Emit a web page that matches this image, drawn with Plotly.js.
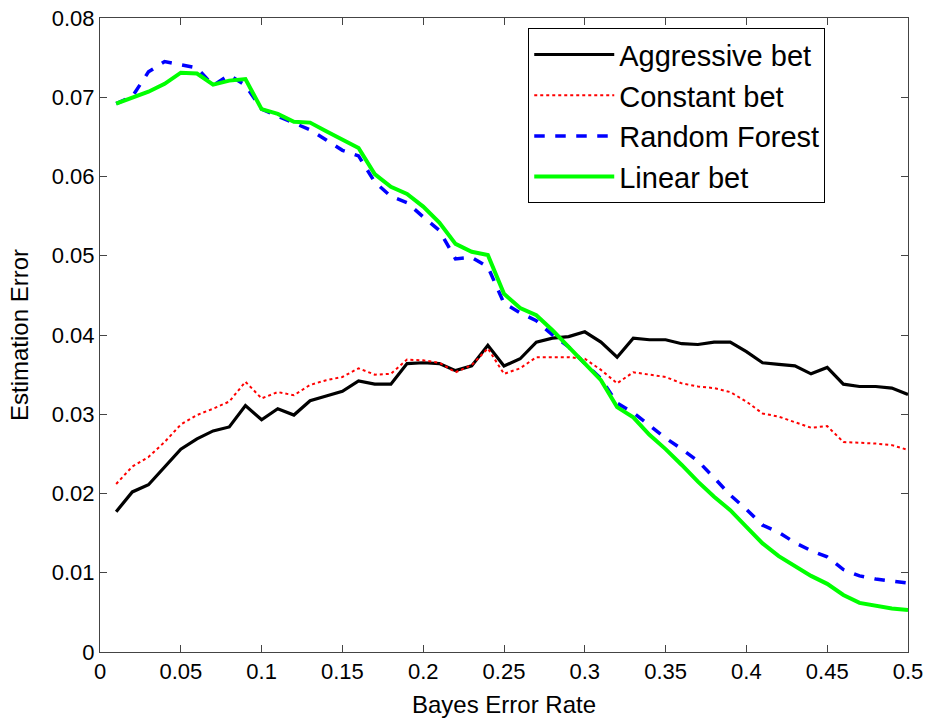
<!DOCTYPE html>
<html>
<head>
<meta charset="utf-8">
<script src="https://cdn.plot.ly/plotly-3.0.1.min.js"></script>
<style>html,body{margin:0;padding:0;background:#fff;}#chart{width:926px;height:719px;}</style>
</head>
<body>
<div id="chart"></div>
<script>
const bayesRate = [0.01,0.02,0.03,0.04,0.05,0.06,0.07,0.08,0.09,0.10,0.11,0.12,0.13,0.14,0.15,0.16,0.17,0.18,0.19,0.20,0.21,0.22,0.23,0.24,0.25,0.26,0.27,0.28,0.29,0.30,0.31,0.32,0.33,0.34,0.35,0.36,0.37,0.38,0.39,0.40,0.41,0.42,0.43,0.44,0.45,0.46,0.47,0.48,0.49,0.50];

const aggressiveBet = [0.0177,0.0202,0.0211,0.0234,0.0256,0.0269,0.0279,0.0284,0.0311,0.0293,0.0307,0.0299,0.0317,0.0323,0.0329,0.0342,0.0338,0.0338,0.0364,0.0365,0.0364,0.0355,0.0361,0.0387,0.0361,0.0370,0.0391,0.0396,0.0398,0.0404,0.0391,0.0372,0.0396,0.0394,0.0394,0.0389,0.0388,0.0391,0.0391,0.0379,0.0365,0.0363,0.0361,0.0351,0.0359,0.0338,0.0335,0.0335,0.0333,0.0325];

const constantBet = [0.0212,0.0234,0.0246,0.0265,0.0287,0.0299,0.0307,0.0316,0.0341,0.0320,0.0328,0.0324,0.0337,0.0343,0.0347,0.0358,0.0350,0.0351,0.0369,0.0368,0.0365,0.0353,0.0362,0.0383,0.0351,0.0358,0.0372,0.0372,0.0372,0.0370,0.0356,0.0339,0.0353,0.0350,0.0347,0.0339,0.0335,0.0333,0.0328,0.0316,0.0301,0.0297,0.0290,0.0283,0.0285,0.0265,0.0264,0.0263,0.0261,0.0255];

const randomForest = [0.0692,0.0701,0.0732,0.0745,0.0741,0.0737,0.0715,0.0728,0.0715,0.0685,0.0676,0.0667,0.0659,0.0646,0.0633,0.0626,0.0593,0.0575,0.0567,0.0549,0.0532,0.0496,0.0498,0.0486,0.0440,0.0428,0.0418,0.0400,0.0385,0.0364,0.0345,0.0314,0.0302,0.0286,0.0270,0.0256,0.0241,0.0220,0.0198,0.0180,0.0160,0.0151,0.0138,0.0128,0.0120,0.0104,0.0096,0.0092,0.0089,0.0087];

const linearBet = [0.0692,0.0699,0.0707,0.0717,0.0731,0.0730,0.0716,0.0721,0.0723,0.0685,0.0679,0.0669,0.0668,0.0657,0.0647,0.0636,0.0603,0.0587,0.0578,0.0562,0.0542,0.0515,0.0505,0.0501,0.0452,0.0434,0.0425,0.0406,0.0385,0.0364,0.0343,0.0309,0.0296,0.0274,0.0256,0.0236,0.0215,0.0196,0.0179,0.0158,0.0137,0.0121,0.0108,0.0096,0.0086,0.0072,0.0062,0.0058,0.0055,0.0053];

const seriesNames = ["Aggressive bet","Constant bet","Random Forest","Linear bet"];
const xTickVals = [0,0.05,0.1,0.15,0.2,0.25,0.3,0.35,0.4,0.45,0.5];
const xTickText = ["0","0.05","0.1","0.15","0.2","0.25","0.3","0.35","0.4","0.45","0.5"];
const yTickVals = [0,0.01,0.02,0.03,0.04,0.05,0.06,0.07,0.08];
const yTickText = ["0","0.01","0.02","0.03","0.04","0.05","0.06","0.07","0.08"];

const traces = [
  {x: bayesRate, y: aggressiveBet, name: seriesNames[0], mode: "lines", line: {color: "#000000", width: 3.2}},
  {x: bayesRate, y: constantBet, name: seriesNames[1], mode: "lines", line: {color: "#ff0000", width: 2, dash: "dot"}},
  {x: bayesRate, y: randomForest, name: seriesNames[2], mode: "lines", line: {color: "#0000ff", width: 3.5, dash: "dash"}},
  {x: bayesRate, y: linearBet, name: seriesNames[3], mode: "lines", line: {color: "#00ff00", width: 4}}
];

const font = "Arial, 'Liberation Sans', sans-serif";
const layout = {
  width: 926, height: 719,
  margin: {l: 100, r: 18, t: 18, b: 67},
  paper_bgcolor: "#ffffff", plot_bgcolor: "#ffffff",
  showlegend: true,
  legend: {
    x: 0.53, y: 0.984, xanchor: "left", yanchor: "top",
    bgcolor: "#ffffff", bordercolor: "#000000", borderwidth: 1,
    font: {family: font, size: 29, color: "#000000"},
    itemwidth: 80,
    tracegroupgap: 0
  },
  xaxis: {
    range: [0, 0.5], tickvals: xTickVals, ticktext: xTickText,
    ticks: "inside", ticklen: 7, tickcolor: "#444", showline: true, linecolor: "#444", linewidth: 1,
    mirror: "ticks", showgrid: false, zeroline: false,
    tickfont: {family: font, size: 22, color: "#000"},
    title: {text: "Bayes Error Rate", font: {family: font, size: 24, color: "#000"}, standoff: 12}
  },
  yaxis: {
    range: [0, 0.08], tickvals: yTickVals, ticktext: yTickText,
    ticks: "inside", ticklen: 7, tickcolor: "#444", showline: true, linecolor: "#444", linewidth: 1,
    mirror: "ticks", showgrid: false, zeroline: false,
    tickfont: {family: font, size: 22, color: "#000"},
    title: {text: "Estimation Error", font: {family: font, size: 24, color: "#000"}, standoff: 16}
  }
};

Plotly.newPlot("chart", traces, layout, {displayModeBar: false, staticPlot: true});
</script>
</body>
</html>
